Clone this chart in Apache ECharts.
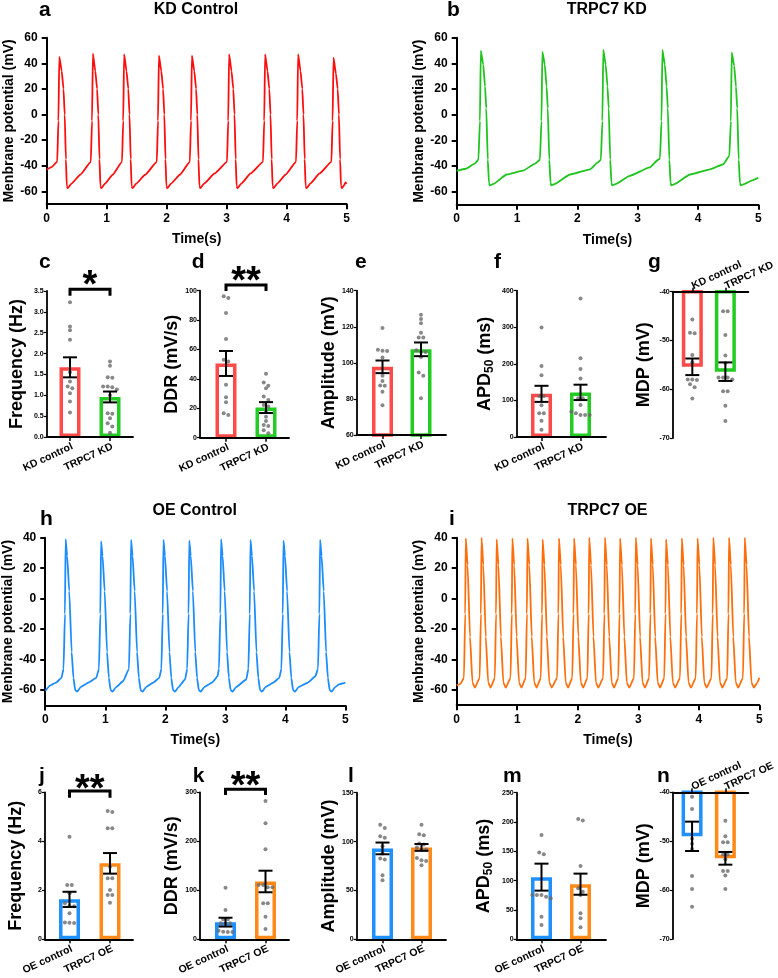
<!DOCTYPE html>
<html><head><meta charset="utf-8">
<script src="https://cdn.jsdelivr.net/npm/echarts@6/dist/echarts.min.js"></script>
<style>html,body{margin:0;padding:0;background:#fff}#c{width:778px;height:978px}</style>
</head><body><div id="c"></div>
<script>
// ===================== DATA =====================
const timeTicks = [0, 1, 2, 3, 4, 5];
const kdTraceTicks = [-60, -40, -20, 0, 20, 40, 60];
const oeTraceTicks = [-60, -40, -20, 0, 20, 40];

const kdControlTrace = [
[0,-43],[0.08,-41],[0.175,-37],[0.195,-5],[0.21,45],[0.25,34],[0.28,20],[0.30,0],[0.32,-35],[0.335,-56],[0.35,-57.5],[0.41,-54],[0.56,-47],
[0.735,-37],[0.755,-5],[0.77,47.5],[0.81,34],[0.84,20],[0.86,0],[0.88,-35],[0.895,-56],[0.91,-57.5],[0.97,-54],[1.10,-47],
[1.255,-37],[1.275,-5],[1.29,47],[1.33,34],[1.36,20],[1.38,0],[1.40,-35],[1.415,-56],[1.43,-57.5],[1.49,-54],[1.64,-47],
[1.835,-37],[1.855,-5],[1.87,46],[1.91,34],[1.94,20],[1.96,0],[1.98,-35],[1.995,-56],[2.01,-57.5],[2.07,-54],[2.22,-47],
[2.385,-37],[2.405,-5],[2.42,46],[2.46,34],[2.49,20],[2.51,0],[2.53,-35],[2.545,-56],[2.56,-57.5],[2.62,-54],[2.80,-46],
[3.005,-37],[3.025,-5],[3.04,47],[3.08,34],[3.11,20],[3.13,0],[3.15,-35],[3.165,-56],[3.18,-57.5],[3.24,-54],[3.40,-46],
[3.605,-37],[3.625,-5],[3.64,47],[3.68,34],[3.71,20],[3.73,0],[3.75,-35],[3.765,-56],[3.78,-57.5],[3.84,-54],[3.98,-47],
[4.155,-37],[4.175,-5],[4.19,47],[4.23,34],[4.26,20],[4.28,0],[4.30,-35],[4.315,-56],[4.33,-57.5],[4.39,-54],[4.55,-46],
[4.745,-37],[4.765,-5],[4.78,44.5],[4.82,32],[4.85,20],[4.87,0],[4.89,-35],[4.905,-56],[4.92,-57.5],[4.96,-55],[4.98,-53],[5.0,-54]
];

const trpc7KdTrace = [
[0,-43.7],[0.15,-42],[0.3,-38],[0.36,-35],[0.385,-5],[0.40,50],[0.44,39],[0.47,22],[0.49,5],[0.515,-35],[0.535,-53],[0.55,-55],[0.6,-54],[0.83,-46.5],[1.1,-43.5],[1.3,-38],
[1.38,-35],[1.405,-5],[1.42,49],[1.46,39],[1.49,22],[1.51,5],[1.535,-35],[1.555,-53],[1.57,-55],[1.62,-54],[1.88,-46.5],[2.21,-42.5],[2.34,-37],
[2.39,-35],[2.415,-5],[2.43,50.5],[2.47,39],[2.50,22],[2.52,5],[2.545,-35],[2.565,-53],[2.58,-55],[2.63,-54],[2.87,-47.5],[3.2,-41],[3.34,-35],
[3.37,-34],[3.395,-5],[3.41,50.5],[3.45,39],[3.48,22],[3.50,5],[3.525,-35],[3.545,-53],[3.56,-55],[3.61,-54],[3.87,-46.5],[4.2,-42.5],[4.42,-38.5],[4.52,-32],
[4.545,-5],[4.56,48.5],[4.60,38],[4.63,22],[4.65,5],[4.675,-35],[4.695,-53],[4.71,-55],[4.76,-54],[4.9,-51],[5.0,-49]
];

const oeControlTrace = [
[0,-60.5],[0.08,-57],[0.18,-55],[0.27,-52],[0.305,-46],[0.328,-10],[0.34,39],[0.365,28],[0.40,5],[0.44,-35],[0.47,-52],[0.50,-60],[0.53,-61],[0.59,-58],[0.72,-55],[0.85,-52],
[0.895,-46],[0.918,-10],[0.93,37.5],[0.955,28],[0.99,5],[1.03,-35],[1.06,-52],[1.09,-60],[1.12,-61],[1.18,-58],[1.30,-54],
[1.395,-46],[1.418,-10],[1.43,38.5],[1.455,28],[1.49,5],[1.53,-35],[1.56,-52],[1.59,-60],[1.62,-61],[1.68,-58],[1.80,-55],[1.90,-52],
[1.935,-46],[1.958,-10],[1.97,38.5],[1.995,28],[2.03,5],[2.07,-35],[2.10,-52],[2.13,-60],[2.16,-61],[2.22,-58],[2.33,-53],
[2.365,-46],[2.388,-10],[2.40,38],[2.425,28],[2.46,5],[2.50,-35],[2.53,-52],[2.56,-60],[2.59,-61],[2.65,-58],[2.78,-55],[2.87,-51],
[2.895,-46],[2.918,-10],[2.93,39],[2.955,28],[2.99,5],[3.03,-35],[3.06,-52],[3.09,-60],[3.12,-61],[3.18,-58],[3.35,-53],
[3.385,-46],[3.408,-10],[3.42,38.5],[3.445,28],[3.48,5],[3.52,-35],[3.55,-52],[3.58,-60],[3.61,-61],[3.67,-58],[3.80,-55],[3.90,-52],
[3.935,-46],[3.958,-10],[3.97,38],[3.995,28],[4.03,5],[4.07,-35],[4.10,-52],[4.13,-60],[4.16,-61],[4.22,-58],[4.38,-55],[4.50,-51],
[4.545,-46],[4.568,-10],[4.58,38.5],[4.605,28],[4.64,5],[4.68,-35],[4.71,-52],[4.74,-60],[4.77,-61],[4.83,-58],[4.90,-56],[5.0,-55]
];

const trpc7OeTrace = [
[0,-57],[0.06,-56],
[0.12,-52],[0.14,-10],[0.15,39.6],[0.18,22],[0.22,-25],[0.26,-55],[0.30,-58.5],
[0.38,-52],[0.40,-10],[0.41,40],[0.44,22],[0.48,-25],[0.52,-55],[0.56,-58.5],
[0.63,-52],[0.65,-10],[0.66,38.9],[0.69,22],[0.73,-25],[0.77,-55],[0.81,-58.5],
[0.89,-52],[0.91,-10],[0.92,39.6],[0.95,22],[0.99,-25],[1.03,-55],[1.07,-58.5],
[1.14,-52],[1.16,-10],[1.17,39.6],[1.20,22],[1.24,-25],[1.28,-55],[1.32,-58.5],
[1.39,-52],[1.41,-10],[1.42,38.9],[1.45,22],[1.49,-25],[1.53,-55],[1.57,-58.5],
[1.66,-52],[1.68,-10],[1.69,39.6],[1.72,22],[1.76,-25],[1.80,-55],[1.84,-58.5],
[1.91,-52],[1.93,-10],[1.94,39.6],[1.97,22],[2.01,-25],[2.05,-55],[2.09,-58.5],
[2.16,-52],[2.18,-10],[2.19,40],[2.22,22],[2.26,-25],[2.30,-55],[2.34,-58.5],
[2.42,-52],[2.44,-10],[2.45,40],[2.48,22],[2.52,-25],[2.56,-55],[2.60,-58.5],
[2.67,-52],[2.69,-10],[2.70,39.6],[2.73,22],[2.77,-25],[2.81,-55],[2.85,-58.5],
[2.93,-52],[2.95,-10],[2.96,40],[2.99,22],[3.03,-25],[3.07,-55],[3.11,-58.5],
[3.18,-52],[3.20,-10],[3.21,39.6],[3.24,22],[3.28,-25],[3.32,-55],[3.36,-58.5],
[3.43,-52],[3.45,-10],[3.46,38.9],[3.49,22],[3.53,-25],[3.57,-55],[3.61,-58.5],
[3.69,-52],[3.71,-10],[3.72,39.6],[3.75,22],[3.79,-25],[3.83,-55],[3.87,-58.5],
[3.95,-52],[3.97,-10],[3.98,39.6],[4.01,22],[4.05,-25],[4.09,-55],[4.13,-58.5],
[4.21,-52],[4.23,-10],[4.24,40],[4.27,22],[4.31,-25],[4.35,-55],[4.39,-58.5],
[4.47,-52],[4.49,-10],[4.50,40],[4.53,22],[4.57,-25],[4.61,-55],[4.65,-58.5],
[4.73,-52],[4.75,-10],[4.76,40],[4.79,22],[4.83,-25],[4.87,-55],[4.91,-58.5],
[4.97,-55],[5.0,-52]
];

const kdGroups = ['KD control', 'TRPC7 KD'];
const oeGroups = ['OE control', 'TRPC7 OE'];

// c  Frequency (KD)
const freqKdMean = [1.67, 0.96];
const freqKdSem = [0.24, 0.13];
const freqKdCtrl = [3.23, 2.65, 2.56, 2.33, 1.55, 1.33, 1.21, 1.17, 1.05, 0.85, 0.59];
const freqKdTrpc = [1.81, 1.71, 1.43, 1.42, 1.21, 1.21, 1.19, 1.14, 1.0, 0.57, 0.56, 0.45, 0.33, 0.25, 0.1];
// d  DDR (KD)
const ddrKdMean = [50.5, 20.5];
const ddrKdSem = [8.5, 3.7];
const ddrKdCtrl = [96.2, 95.1, 84.9, 67.2, 53, 51.9, 36, 27.6, 24.2, 16.7, 15.5];
const ddrKdTrpc = [43.5, 37.5, 35.3, 33.7, 28, 25.7, 22.3, 21.2, 17.7, 14.3, 11.4, 8.7, 8, 5, 3];
// e  Amplitude (KD)
const ampKdMean = [97.8, 107.5];
const ampKdSem = [3.5, 3.8];
const ampKdCtrl = [119.3, 107.2, 106.7, 106.6, 103, 92.8, 90, 87.4, 87.3, 84, 76.5];
const ampKdTrpc = [126.7, 124.3, 121.9, 116.7, 114, 114, 107, 106, 106, 103.3, 94.6, 92.8, 80.4];
// f  APD50 (KD)
const apdKdMean = [118, 122];
const apdKdSem = [22, 21];
const apdKdCtrl = [299.7, 194, 169, 112, 112, 87, 64.8, 64.8, 44.5, 20];
const apdKdTrpc = [379, 215, 186, 160, 105.7, 105.7, 87.4, 69, 60, 60, 60, 65];
// g  MDP (KD)
const mdpKdMean = [-55.4, -56.4];
const mdpKdSem = [1.7, 1.9];
const mdpKdCtrl = [-45.7, -48.5, -48.4, -53, -54.5, -58.1, -58, -58, -59.6, -59, -61.9];
const mdpKdTrpc = [-44, -44, -48.9, -53.1, -54.6, -57.6, -57.6, -57.6, -58, -60.4, -60.4, -63.4, -66.5];
// j  Frequency (OE)
const freqOeMean = [1.63, 3.1];
const freqOeSem = [0.31, 0.42];
const freqOeCtrl = [4.19, 2.22, 2.22, 1.88, 1.47, 1.36, 1.35, 1.06, 0.69, 0.67, 0.68];
const freqOeTrpc = [5.24, 5.2, 4.53, 4.53, 2.96, 2.49, 2.49, 2.01, 1.81, 1.81, 1.49];
// k  DDR (OE)
const ddrOeMean = [35, 118];
const ddrOeSem = [9, 22];
const ddrOeCtrl = [105, 60, 40.8, 40.8, 32.6, 32.6, 32.6, 15.5, 14.9, 14.9, 17.6];
const ddrOeTrpc = [282, 237, 184, 111, 111, 106, 106, 73.5, 73.5, 46, 21];
// l  Amplitude (OE)
const ampOeMean = [93, 94];
const ampOeSem = [6, 3.5];
const ampOeCtrl = [117.3, 113.9, 105.4, 104, 95.2, 87.8, 82.7, 81.6, 65.6, 60.5];
const ampOeTrpc = [117.3, 107.4, 106.4, 98, 97, 93.9, 91.8, 91.8, 83.3, 81, 75.8, 80];
// m  APD50 (OE)
const apdOeMean = [106, 94];
const apdOeSem = [23, 18];
const apdOeCtrl = [178, 145, 148, 75.6, 75.6, 75.6, 72.7, 70, 38.6, 24.4];
const apdOeTrpc = [205, 202.4, 125, 87, 81, 75.6, 44.4, 35.8, 20.5];
// n  MDP (OE)
const mdpOeMean = [-49, -53.5];
const mdpOeSem = [3, 1.3];
const mdpOeCtrl = [-40.9, -43.4, -49.5, -50.5, -51.6, -57.1, -59.8, -63.4];
const mdpOeTrpc = [-45.8, -49, -50.2, -50.2, -52.7, -52.7, -53.7, -56.1, -56.1, -57, -59.8];

// ===================== STYLE / LAYOUT =====================
const FONT = '"Liberation Sans", Arial, sans-serif';
const RED_T = '#ff0d0d', GREEN_T = '#1fc41f', BLUE_T = '#1a8cff', ORANGE_T = '#ff6e0a';
const RED_B = '#ff4a4a', GREEN_B = '#22cc22', BLUE_B = '#1e90ff', ORANGE_B = '#ff8a1a';
const DOT = '#6a6a6a';

const chart = echarts.init(document.getElementById('c'), null, {renderer: 'canvas', width: 778, height: 978});
const option = {animation: false, backgroundColor: '#fff', grid: [], xAxis: [], yAxis: [], series: [], graphic: []};

const axisLineStyle = (w) => ({color: '#000', width: w});
const boldText = (size) => ({color: '#000', fontSize: size, fontWeight: 'bold', fontFamily: FONT});

function addTrace(p, data, color, ticks) {
  const gi = option.grid.length;
  option.grid.push({left: p.left, top: p.top, width: p.width, height: p.height});
  option.xAxis.push({
    gridIndex: gi, type: 'value', min: 0, max: 5,
    axisLine: {show: true, onZero: false, lineStyle: axisLineStyle(2)},
    axisTick: {show: true, customValues: timeTicks, length: 5, lineStyle: axisLineStyle(2)},
    axisLabel: Object.assign({customValues: timeTicks, margin: 8}, boldText(12)),
    splitLine: {show: false},
    name: 'Time(s)', nameLocation: 'middle', nameGap: 28, nameTextStyle: boldText(14)
  });
  option.yAxis.push({
    gridIndex: gi, type: 'value', min: -70, max: ticks[ticks.length - 1],
    axisLine: {show: true, onZero: false, lineStyle: axisLineStyle(2)},
    axisTick: {show: true, customValues: ticks, length: 5, lineStyle: axisLineStyle(2)},
    axisLabel: Object.assign({customValues: ticks, margin: 9}, boldText(12)),
    splitLine: {show: false},
    name: 'Menbrane potential (mV)', nameLocation: 'middle', nameRotate: 90, nameGap: p.nameGap,
    nameTextStyle: boldText(14)
  });
  option.series.push({
    type: 'line', xAxisIndex: gi, yAxisIndex: gi, data: data, symbol: 'none', showSymbol: false,
    smooth: 0.15, smoothMonotone: 'x',
    lineStyle: {color: color, width: 1.8}, clip: true, z: 3
  });
}

function jitter(vals, pxPerUnit) {
  const idx = vals.map((v, i) => i).sort((a, b) => vals[b] - vals[a]);
  const off = new Array(vals.length).fill(0);
  let group = [idx[0]];
  const flush = () => {
    const n = group.length;
    group.forEach((k, j) => { off[k] = (j - (n - 1) / 2) * 4.6; });
  };
  for (let i = 1; i < idx.length; i++) {
    if (Math.abs(vals[idx[i]] - vals[group[0]]) * pxPerUnit < 3.6) group.push(idx[i]);
    else { flush(); group = [idx[i]]; }
  }
  flush();
  return off;
}

function addBarPanel(p) {
  const gi = option.grid.length;
  const h = p.bottom - p.top;
  option.grid.push({left: p.left, top: p.top, width: p.right - p.left, height: h});
  const sp = p.c2 - p.c1;
  const xmin = 1 - (p.c1 - p.left) / sp, xmax = 2 + (p.right - p.c2) / sp;
  option.xAxis.push({
    gridIndex: gi, type: 'value', min: xmin, max: xmax, position: p.topAxis ? 'top' : 'bottom', z: 5,
    axisLine: {show: true, onZero: false, lineStyle: axisLineStyle(1.8)},
    axisTick: {show: true, customValues: [1, 2], length: 4, lineStyle: axisLineStyle(1.5)},
    axisLabel: Object.assign({customValues: [1, 2], rotate: p.topAxis ? -25 : 25, margin: p.topAxis ? 5 : 4,
      align: p.topAxis ? 'left' : 'right', verticalAlign: p.topAxis ? 'middle' : 'top',
      formatter: (v) => p.groups[Math.round(v) - 1]}, boldText(10.5)),
    splitLine: {show: false}
  });
  option.yAxis.push({
    gridIndex: gi, type: 'value', min: p.min, max: p.max, interval: p.interval,
    axisLine: {show: true, onZero: false, lineStyle: axisLineStyle(1.8)},
    axisTick: {show: true, length: 3, lineStyle: axisLineStyle(1.2)},
    axisLabel: Object.assign({margin: 3, showMinLabel: true, showMaxLabel: true,
      formatter: p.fmt || ((v) => String(v))}, boldText(7)),
    splitLine: {show: false},
    name: p.name, nameLocation: 'middle', nameRotate: 90, nameGap: p.nameGap,
    nameTextStyle: Object.assign({rich: {
      n: boldText(18),
      s: Object.assign({padding: [9, 0, 0, 0]}, boldText(12))
    }}, boldText(18))
  });
  option.series.push({
    type: 'bar', xAxisIndex: gi, yAxisIndex: gi, barWidth: 21, z: 2,
    data: p.mean.map((m, i) => ({value: [i + 1, m],
      itemStyle: {color: 'rgba(255,255,255,0)', borderColor: p.colors[i], borderWidth: 3.5}}))
  });
  const ppu = h / (p.max - p.min);
  [p.dots[0], p.dots[1]].forEach((vals, gIdx) => {
    const off = jitter(vals, ppu);
    option.series.push({
      type: 'scatter', xAxisIndex: gi, yAxisIndex: gi, symbol: 'circle', symbolSize: 4, z: 3,
      itemStyle: {color: DOT},
      data: vals.map((v, k) => ({value: [gIdx + 1, v], symbolOffset: [off[k], 0]}))
    });
  });
  option.series.push({
    type: 'custom', xAxisIndex: gi, yAxisIndex: gi, z: 4,
    encode: {x: 0, y: [1, 2]},
    data: p.mean.map((m, i) => [i + 1, m - p.sem[i], m + p.sem[i]]),
    renderItem: (params, api) => {
      const x = api.value(0);
      const a = api.coord([x, api.value(1)]), b = api.coord([x, api.value(2)]);
      const hw = 7, st = {stroke: '#000', lineWidth: 2};
      return {type: 'group', children: [
        {type: 'line', shape: {x1: a[0], y1: a[1], x2: b[0], y2: b[1]}, style: st},
        {type: 'line', shape: {x1: a[0] - hw, y1: a[1], x2: a[0] + hw, y2: a[1]}, style: st},
        {type: 'line', shape: {x1: b[0] - hw, y1: b[1], x2: b[0] + hw, y2: b[1]}, style: st}
      ]};
    }
  });
  if (p.bracket) {
    const br = p.bracket;
    option.graphic.push({type: 'polyline', silent: true,
      shape: {points: [[p.c1, br.y + br.leg], [p.c1, br.y], [p.c2, br.y], [p.c2, br.y + br.leg]]},
      style: {stroke: '#000', lineWidth: 3, fill: null}});
    option.graphic.push({type: 'text', silent: true, x: (p.c1 + p.c2) / 2, y: br.starY + 8.6,
      style: {text: br.star, font: 'bold 38px ' + FONT, fill: '#000', textAlign: 'center', textVerticalAlign: 'middle'}});
  }
}

// Trace panels
addTrace({left: 46.7, top: 37.7, width: 300, height: 166.5, nameGap: 30}, kdControlTrace, RED_T, kdTraceTicks);
addTrace({left: 456.7, top: 37.7, width: 301.6, height: 167, nameGap: 29}, trpc7KdTrace, GREEN_T, kdTraceTicks);
addTrace({left: 43, top: 537.7, width: 302.3, height: 167.7, nameGap: 29}, oeControlTrace, BLUE_T, oeTraceTicks);
addTrace({left: 456.7, top: 537.7, width: 302.6, height: 167.5, nameGap: 31}, trpc7OeTrace, ORANGE_T, oeTraceTicks);

const f1 = (v) => v.toFixed(1);
const kdCols = [RED_B, GREEN_B], oeCols = [BLUE_B, ORANGE_B];
addBarPanel({left: 46.7, right: 133, top: 291, bottom: 437, c1: 70, c2: 110, min: 0, max: 3.5, interval: 0.5, fmt: f1,
  name: 'Frequency (Hz)', nameGap: 21, groups: kdGroups, colors: kdCols, mean: freqKdMean, sem: freqKdSem,
  dots: [freqKdCtrl, freqKdTrpc], bracket: {y: 289.3, leg: 6.5, star: '*', starY: 278.3}});
addBarPanel({left: 200, right: 289, top: 290.7, bottom: 437.7, c1: 226, c2: 266, min: 0, max: 100, interval: 20,
  name: 'DDR (mV/s)', nameGap: 17, groups: kdGroups, colors: kdCols, mean: ddrKdMean, sem: ddrKdSem,
  dots: [ddrKdCtrl, ddrKdTrpc], bracket: {y: 285, leg: 6, star: '**', starY: 274}});
addBarPanel({left: 356.7, right: 446, top: 290.7, bottom: 435, c1: 382.5, c2: 421, min: 60, max: 140, interval: 20,
  name: 'Amplitude (mV)', nameGap: 17, groups: kdGroups, colors: kdCols, mean: ampKdMean, sem: ampKdSem,
  dots: [ampKdCtrl, ampKdTrpc]});
addBarPanel({left: 516.7, right: 606, top: 290.7, bottom: 437, c1: 541.5, c2: 580.5, min: 0, max: 400, interval: 100,
  name: '{n|APD}{s|50}{n| (ms)}', nameGap: 21, groups: kdGroups, colors: kdCols, mean: apdKdMean, sem: apdKdSem,
  dots: [apdKdCtrl, apdKdTrpc]});
addBarPanel({left: 672.7, right: 761.7, top: 291.7, bottom: 438, c1: 695.8, c2: 734.7, min: -70, max: -40, interval: 10,
  topAxis: true, name: 'MDP (mV)', nameGap: 20, groups: kdGroups, colors: kdCols, mean: mdpKdMean, sem: mdpKdSem,
  dots: [mdpKdCtrl, mdpKdTrpc]});

addBarPanel({left: 45, right: 133, top: 792.3, bottom: 939.3, c1: 69.5, c2: 110, min: 0, max: 6, interval: 2,
  name: 'Frequency (Hz)', nameGap: 20, groups: oeGroups, colors: oeCols, mean: freqOeMean, sem: freqOeSem,
  dots: [freqOeCtrl, freqOeTrpc], bracket: {y: 791, leg: 6.7, star: '**', starY: 781.7}});
addBarPanel({left: 200, right: 289, top: 792.3, bottom: 939.3, c1: 225.5, c2: 265.5, min: 0, max: 300, interval: 100,
  name: 'DDR (mV/s)', nameGap: 17, groups: oeGroups, colors: oeCols, mean: ddrOeMean, sem: ddrOeSem,
  dots: [ddrOeCtrl, ddrOeTrpc], bracket: {y: 789.3, leg: 5.7, star: '**', starY: 779.3}});
addBarPanel({left: 356.7, right: 446, top: 792.7, bottom: 939.3, c1: 382.5, c2: 421.5, min: 0, max: 150, interval: 50,
  name: 'Amplitude (mV)', nameGap: 18, groups: oeGroups, colors: oeCols, mean: ampOeMean, sem: ampOeSem,
  dots: [ampOeCtrl, ampOeTrpc]});
addBarPanel({left: 516.7, right: 606, top: 792.7, bottom: 939.3, c1: 541.5, c2: 580.5, min: 0, max: 250, interval: 50,
  name: '{n|APD}{s|50}{n| (ms)}', nameGap: 22, groups: oeGroups, colors: oeCols, mean: apdOeMean, sem: apdOeSem,
  dots: [apdOeCtrl, apdOeTrpc]});
addBarPanel({left: 672.7, right: 761.7, top: 792.3, bottom: 939, c1: 695.5, c2: 734.7, min: -70, max: -40, interval: 10,
  topAxis: true, name: 'MDP (mV)', nameGap: 20, groups: oeGroups, colors: oeCols, mean: mdpOeMean, sem: mdpOeSem,
  dots: [mdpOeCtrl, mdpOeTrpc]});

// Panel letters and titles
const letters = [['a', 39, 17.3], ['b', 447, 17.3], ['c', 39, 270], ['d', 191.7, 270], ['e', 355, 270], ['f', 494, 270],
  ['g', 648, 270], ['h', 40, 527], ['i', 449, 527], ['j', 39, 784], ['k', 192.7, 784], ['l', 348, 784], ['m', 503, 784], ['n', 657, 784]];
letters.forEach(([t, x, base]) => option.graphic.push({type: 'text', silent: true, x: x, y: base - 7.3,
  style: {text: t, font: 'bold 21px ' + FONT, fill: '#000', textAlign: 'left', textVerticalAlign: 'middle'}}));
const titles = [['KD Control', 196, 15], ['TRPC7 KD', 606.7, 15], ['OE Control', 194.7, 516], ['TRPC7 OE', 607.5, 516]];
titles.forEach(([t, x, base]) => option.graphic.push({type: 'text', silent: true, x: x, y: base - 5.6,
  style: {text: t, font: 'bold 16px ' + FONT, fill: '#000', textAlign: 'center', textVerticalAlign: 'middle'}}));

chart.setOption(option);
</script></body></html>
